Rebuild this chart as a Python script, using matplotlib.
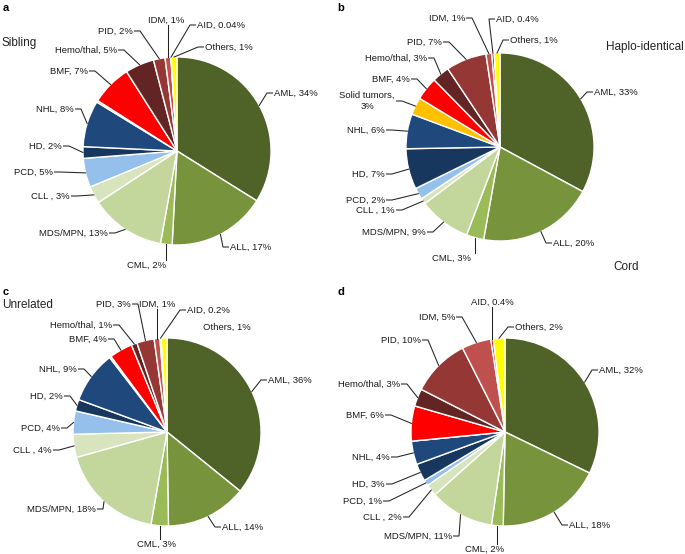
import numpy as np
import matplotlib.pyplot as plt

plt.rcParams['font.family'] = ['Liberation Sans', 'DejaVu Sans']

# categories in clockwise order from 12 o'clock
categories = ['AML', 'ALL', 'CML', 'MDS/MPN', 'CLL', 'PCD', 'HD', 'NHL',
              'Solid tumors', 'BMF', 'Hemo/thal', 'PID', 'IDM', 'AID', 'Others']
display = {'CLL': 'CLL '}

sibling = [34, 17, 2, 13, 3, 5, 2, 8, 0.3, 7, 5, 2, 1, 0.04, 1]
haplo = [33, 20, 3, 9, 1, 2, 7, 6, 3, 4, 3, 7, 1, 0.4, 1]
unrelated = [36, 14, 3, 18, 4, 4, 2, 9, 0.3, 4, 1, 3, 1, 0.2, 1]
cord = [32, 18, 2, 11, 2, 1, 3, 4, 0, 6, 3, 10, 5, 0.4, 2]

colors = ['#4f6228', '#77933c', '#9bbb59', '#c3d69b', '#d7e4bd', '#95c0ec',
          '#17375e', '#1f497d', '#ffc000', '#ff0000', '#632523', '#953735',
          '#c0504d', '#c00000', '#ffff00']

W, H = 685, 554
R = 94

# label layout (pixel coords, y down): x, y, side
# 'l' = text left of leader, 'r' = text right of leader,
# 't' = text above (vertical leader), 'b' = text below (vertical leader), 'n' = no leader
lay_a = {
    'AML': (274, 93, 'r'), 'ALL': (230, 247, 'r'), 'CML': (147, 265, 'b'),
    'MDS/MPN': (108, 233, 'l'), 'CLL': (70, 196, 'l'), 'PCD': (53, 172, 'l'),
    'HD': (62, 146, 'l'), 'NHL': (74, 109, 'l'), 'BMF': (88, 71, 'l'),
    'Hemo/thal': (117, 50, 'l'), 'PID': (133, 31, 'l'), 'IDM': (166, 20, 't'),
    'AID': (197, 25, 'r'), 'Others': (205, 47, 'r'),
}
lay_b = {
    'AML': (594, 92, 'r'), 'ALL': (553, 243, 'r'), 'CML': (452, 258, 'b'),
    'MDS/MPN': (426, 232, 'l'), 'CLL': (395, 210, 'l'), 'PCD': (385, 200, 'l'),
    'HD': (385, 174, 'l'), 'NHL': (385, 130, 'l'), 'Solid tumors': (395, 101, 'l'),
    'BMF': (410, 79, 'l'), 'Hemo/thal': (427, 58, 'l'), 'PID': (442, 42, 'l'),
    'IDM': (465, 18, 'l'), 'AID': (496, 19, 'r'), 'Others': (510, 40, 'r'),
}
lay_c = {
    'AML': (268, 380, 'r'), 'ALL': (222, 527, 'r'), 'CML': (157, 544, 'b'),
    'MDS/MPN': (96, 509, 'l'), 'CLL': (52, 450, 'l'), 'PCD': (60, 428, 'l'),
    'HD': (63, 396, 'l'), 'NHL': (77, 369, 'l'), 'BMF': (107, 339, 'l'),
    'Hemo/thal': (112, 325, 'l'), 'PID': (131, 304, 'l'), 'IDM': (157, 304, 't'),
    'AID': (187, 310, 'r'), 'Others': (203, 327, 'n'),
}
lay_d = {
    'AML': (599, 370, 'r'), 'ALL': (569, 525, 'r'), 'CML': (485, 549, 'b'),
    'MDS/MPN': (452, 536, 'l'), 'CLL': (402, 517, 'l'), 'PCD': (382, 501, 'l'),
    'HD': (385, 484, 'l'), 'NHL': (390, 457, 'l'), 'BMF': (384, 415, 'l'),
    'Hemo/thal': (400, 384, 'l'), 'PID': (421, 340, 'l'), 'IDM': (455, 317, 'l'),
    'AID': (492, 302, 't'), 'Others': (515, 327, 'r'),
}

fig = plt.figure(figsize=(W / 100, H / 100), dpi=100)
ax = fig.add_axes([0, 0, 1, 1])


def label_text(cat, v):
    name = display.get(cat, cat)
    if cat == 'Solid tumors':
        return f'{name},\n{v:g}%'
    return f'{name}, {v:g}%'


def draw_pie(vals, center, layout):
    cx, cy = center[0], H - center[1]
    explode = [0.05 if c == 'AML' else 0 for c in categories]
    wedges, _ = ax.pie(vals, center=(cx, cy), radius=R, startangle=90,
                       counterclock=False, colors=colors, explode=explode,
                       wedgeprops=dict(edgecolor='white', linewidth=1.0))
    for w, cat, v in zip(wedges, categories, vals):
        if cat not in layout:
            continue
        tx, ty, side = layout[cat]
        ty = H - ty
        ang = np.deg2rad((w.theta1 + w.theta2) / 2)
        wx = w.center[0] + w.r * np.cos(ang)
        wy = w.center[1] + w.r * np.sin(ang)
        txt = label_text(cat, v)
        kw = dict(fontsize=6.8, color='#1a1a1a', va='center', zorder=5)
        if side == 'l':
            ax.text(tx, ty, txt, ha='right', multialignment='center', **kw)
            xs, ys = [tx + 1.5, tx + 7, wx], [ty, ty, wy]
        elif side == 'r':
            ax.text(tx, ty, txt, ha='left', **kw)
            xs, ys = [tx - 1.5, tx - 7, wx], [ty, ty, wy]
        elif side == 't':
            ax.text(tx, ty, txt, ha='center', **kw)
            xs, ys = [wx, wx], [ty - 5, wy]
        elif side == 'b':
            ax.text(tx, ty, txt, ha='center', **kw)
            xs, ys = [wx, wx], [ty + 5, wy]
        else:
            ax.text(tx, ty, txt, ha='left', **kw)
            continue
        ax.plot(xs, ys, color='#222222', lw=0.75, zorder=4)


draw_pie(sibling, (177, 151), lay_a)
draw_pie(haplo, (500, 147), lay_b)
draw_pie(unrelated, (167, 432), lay_c)
draw_pie(cord, (505, 432), lay_d)

# panel letters and titles
for letter, (x, y) in zip('abcd', [(3, 8), (337, 8), (3, 292), (338, 292)]):
    ax.text(x, H - y, letter, fontsize=8, fontweight='bold', ha='left', va='center')
ax.text(2, H - 43, 'Sibling', fontsize=8.5, ha='left', va='center', color='#222222')
ax.text(684, H - 47, 'Haplo-identical', fontsize=8.5, ha='right', va='center', color='#222222')
ax.text(2, H - 305, 'Unrelated', fontsize=8.5, ha='left', va='center', color='#222222')
ax.text(613, H - 267, 'Cord', fontsize=8.5, ha='left', va='center', color='#222222')

ax.set_xlim(0, W)
ax.set_ylim(0, H)
ax.set_aspect('equal')
ax.axis('off')

fig.savefig('out.png', dpi=100, facecolor='white')
